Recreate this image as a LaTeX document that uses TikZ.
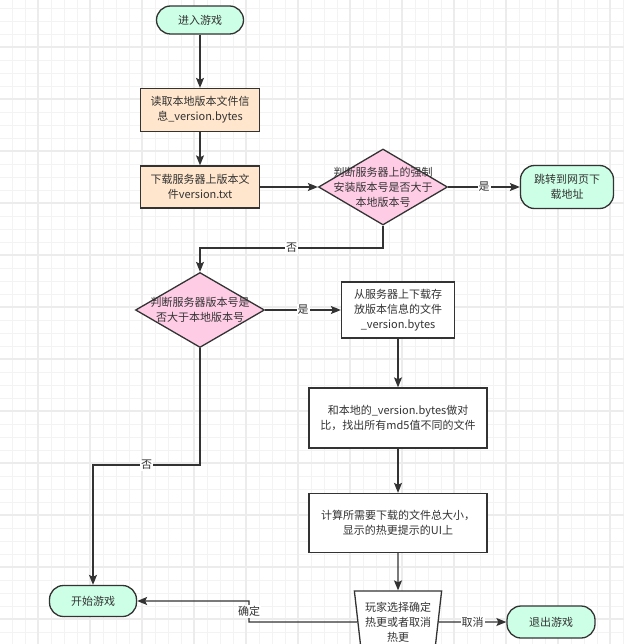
\documentclass[tikz,border=0pt]{standalone}
\usepackage{fontspec}
\setmainfont{Noto Sans CJK SC}
\usepackage{tikz}
\usetikzlibrary{arrows.meta,shapes.geometric}
\definecolor{ink}{HTML}{333333}
\definecolor{mint}{HTML}{CCFFE6}
\definecolor{peach}{HTML}{FFE6CC}
\definecolor{blush}{HTML}{FFCCE6}
\definecolor{gridfine}{HTML}{F3F3F3}
\definecolor{gridbold}{HTML}{ECECEC}

\begin{document}
\begin{tikzpicture}[x=1pt,y=-1pt,
  every node/.style={font=\fontsize{11}{15}\selectfont,text=ink,align=center},
  termbox/.style={draw=ink,line width=1.3pt,fill=mint,rounded corners=14pt,inner sep=0pt},
  peachbox/.style={draw=ink,line width=1.3pt,fill=peach,inner sep=0pt},
  plainbox/.style={draw=ink,line width=1.3pt,fill=white,inner sep=0pt},
  decision/.style={diamond,draw=ink,line width=1.3pt,fill=blush,inner sep=0pt},
  flow/.style={draw=ink,line width=1.3pt,-{Stealth[length=10pt,width=8pt,inset=2pt]}},
  edgetag/.style={fill=white,inner sep=1pt}]
  \useasboundingbox (0,0) rectangle (624,644);
  \clip (0,0) rectangle (624,644);
  \fill[white] (0,0) rectangle (624,644);
  \foreach \g in {12,25,...,624} \draw[gridfine,line width=0.8pt] (\g,0) -- (\g,644);
  \foreach \g in {8,21,...,644} \draw[gridfine,line width=0.8pt] (0,\g) -- (624,\g);
  \foreach \g in {38,90,...,624} \draw[gridbold,line width=1.3pt] (\g,0) -- (\g,644);
  \foreach \g in {47,99,...,644} \draw[gridbold,line width=1.3pt] (0,\g) -- (624,\g);

  \node[termbox,minimum width=87pt,minimum height=28pt] (enter) at (200,20) {进入游戏};
  \node[peachbox,minimum width=119pt,minimum height=43pt] (readlocal) at (200,110)
    {读取本地版本文件信\\息\_version.bytes};
  \node[peachbox,minimum width=119pt,minimum height=42pt] (fetchtxt) at (200,187)
    {下载服务器上版本文\\件version.txt};
  \node[decision,minimum width=129pt,minimum height=76pt,
    label={center:判断服务器上的强制\\安装版本号是否大于\\本地版本号}] (forcechk) at (383,187) {};
  \node[termbox,minimum width=93pt,minimum height=43pt] (webjump) at (567,187)
    {跳转到网页下\\载地址};
  \node[decision,minimum width=129pt,minimum height=75pt,
    label={center:判断服务器版本号是\\否大于本地版本号}] (verchk) at (200,310) {};
  \node[plainbox,minimum width=113pt,minimum height=56pt] (fetchbytes) at (398,310)
    {从服务器上下载存\\放版本信息的文件\\\_version.bytes};
  \node[plainbox,minimum width=178pt,minimum height=60pt] (compare) at (398,418)
    {和本地的\_version.bytes做对\\比，找出所有md5值不同的文件};
  \node[plainbox,minimum width=178pt,minimum height=59pt] (sizecalc) at (398,523)
    {计算所需要下载的文件总大小，\\显示的热更提示的UI上};
  \node[trapezium,shape border rotate=180,trapezium angle=81,trapezium stretches=true,
    draw=ink,line width=1.3pt,fill=white,inner sep=0pt,
    minimum width=88pt,minimum height=62pt] (choose) at (398,622)
    {玩家选择确定\\热更或者取消\\热更};
  \node[termbox,minimum width=87pt,minimum height=31pt] (startgame) at (93,601) {开始游戏};
  \node[termbox,minimum width=88pt,minimum height=32pt] (quitgame) at (551,622) {退出游戏};

  \coordinate (nobend) at (0,248);
  \coordinate (nobend2) at (0,465);
  \coordinate (okbend) at (249,622);

  \draw[flow] (enter) -- (readlocal);
  \draw[flow] (readlocal) -- (fetchtxt);
  \draw[flow] (fetchtxt) -- (forcechk);
  \draw[flow] (forcechk) -- node[edgetag] {是} (webjump);
  \draw[flow] (forcechk.south) -- (forcechk.south |- nobend) -| node[edgetag,pos=0.25] {否} (verchk.north);
  \draw[flow] (verchk) -- node[edgetag] {是} (fetchbytes);
  \draw[flow] (verchk.south) -- (verchk.south |- nobend2) -| node[edgetag,pos=0.25] {否} (startgame.north);
  \draw[flow] (fetchbytes) -- (compare);
  \draw[flow] (compare) -- (sizecalc);
  \draw[flow] (sizecalc) -- (choose.north);
  \draw[flow] (choose.west) -- (okbend) |- node[edgetag,pos=0.25] {确定} (startgame.east);
  \draw[flow] (choose.east) -- node[edgetag] {取消} (quitgame);
\end{tikzpicture}
\end{document}
